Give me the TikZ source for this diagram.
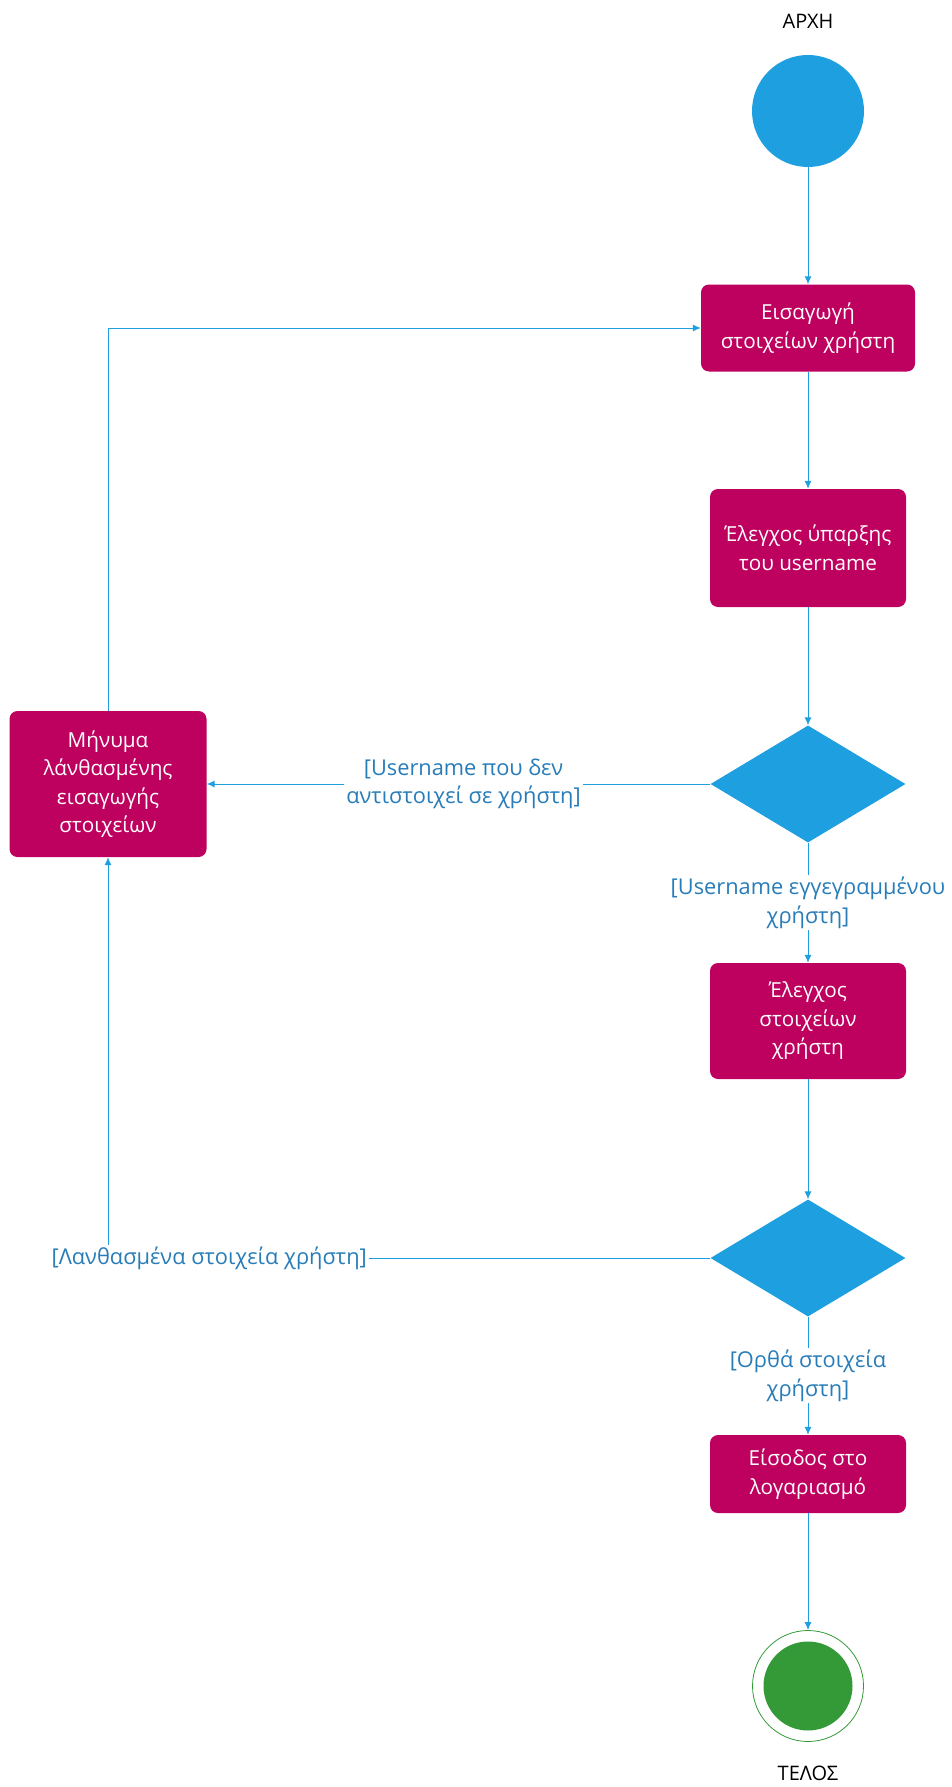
\documentclass[tikz,border=0pt]{standalone}
\usepackage{fontspec}
\setmainfont{Open Sans}
\usetikzlibrary{arrows.meta,shapes.geometric}
\definecolor{actmag}{RGB}{190,0,95}
\definecolor{flowblue}{RGB}{30,160,224}
\definecolor{guardblue}{RGB}{40,125,185}
\definecolor{endgreen}{RGB}{52,154,56}
\begin{document}
\begin{tikzpicture}[x=1pt,y=-1pt,
  action/.style={fill=actmag, rounded corners=8pt, text=white, align=center,
    font=\fontsize{20.7}{28.5}\selectfont, inner sep=0pt},
  decision/.style={diamond, fill=flowblue, inner sep=0pt,
    minimum width=195pt, minimum height=117pt},
  flow/.style={draw=flowblue, line width=1pt, -{Latex[length=8pt,width=7pt]}},
  guard/.style={fill=white, text=guardblue, align=center, inner sep=2pt,
    font=\fontsize{21.8}{28.5}\selectfont},
  caption/.style={text=black, font=\fontsize{20}{24}\selectfont}]
\useasboundingbox (0,0) rectangle (952,1787);

% start and end markers
\node[caption] (starttxt) at (808,21) {ΑΡΧΗ};
\node[circle, fill=flowblue, minimum size=112pt, inner sep=0pt] (start) at (808,111) {};

% activities and decisions
\node[action, minimum width=214pt, minimum height=87pt] (input) at (808,328)
  {Εισαγωγή\\στοιχείων χρήστη};
\node[action, minimum width=196pt, minimum height=118pt] (checkuser) at (808,548)
  {Έλεγχος ύπαρξης\\του username};
\node[decision] (dec1) at (808,784) {};
\node[action, minimum width=197pt, minimum height=146pt] (errmsg) at (108,784)
  {Μήνυμα\\λάνθασμένης\\εισαγωγής\\στοιχείων};
\node[action, minimum width=196pt, minimum height=116pt] (checkdata) at (808,1021)
  {Έλεγχος\\στοιχείων\\χρήστη};
\node[decision] (dec2) at (808,1258) {};
\node[action, minimum width=196pt, minimum height=78pt] (login) at (808,1474)
  {Είσοδος στο\\λογαριασμό};

\node[circle, draw=endgreen, line width=0.8pt, minimum size=111pt, inner sep=0pt] (endring) at (808,1686) {};
\node[circle, fill=endgreen, minimum size=89pt, inner sep=0pt] (endcore) at (808,1686) {};
\node[caption] (endtxt) at (808,1773) {ΤΕΛΟΣ};

% control flow
\draw[flow] (start) -- (input);
\draw[flow] (input) -- (checkuser);
\draw[flow] (checkuser) -- (dec1);
\draw[flow] (dec1) -- node[guard, pos=0.49] {[Username που δεν\\αντιστοιχεί σε χρήστη]} (errmsg);
\draw[flow] (dec1) -- node[guard] {[Username εγγεγραμμένου\\χρήστη]} (checkdata);
\draw[flow] (checkdata) -- (dec2);
\draw[flow] (dec2.west) -| node[guard, pos=0.416] {[Λανθασμένα στοιχεία χρήστη]} (errmsg.south);
\draw[flow] (errmsg.north) |- (input.west);
\draw[flow] (dec2) -- node[guard] {[Ορθά στοιχεία\\χρήστη]} (login);
\draw[flow] (login) -- (endring);
\end{tikzpicture}
\end{document}
